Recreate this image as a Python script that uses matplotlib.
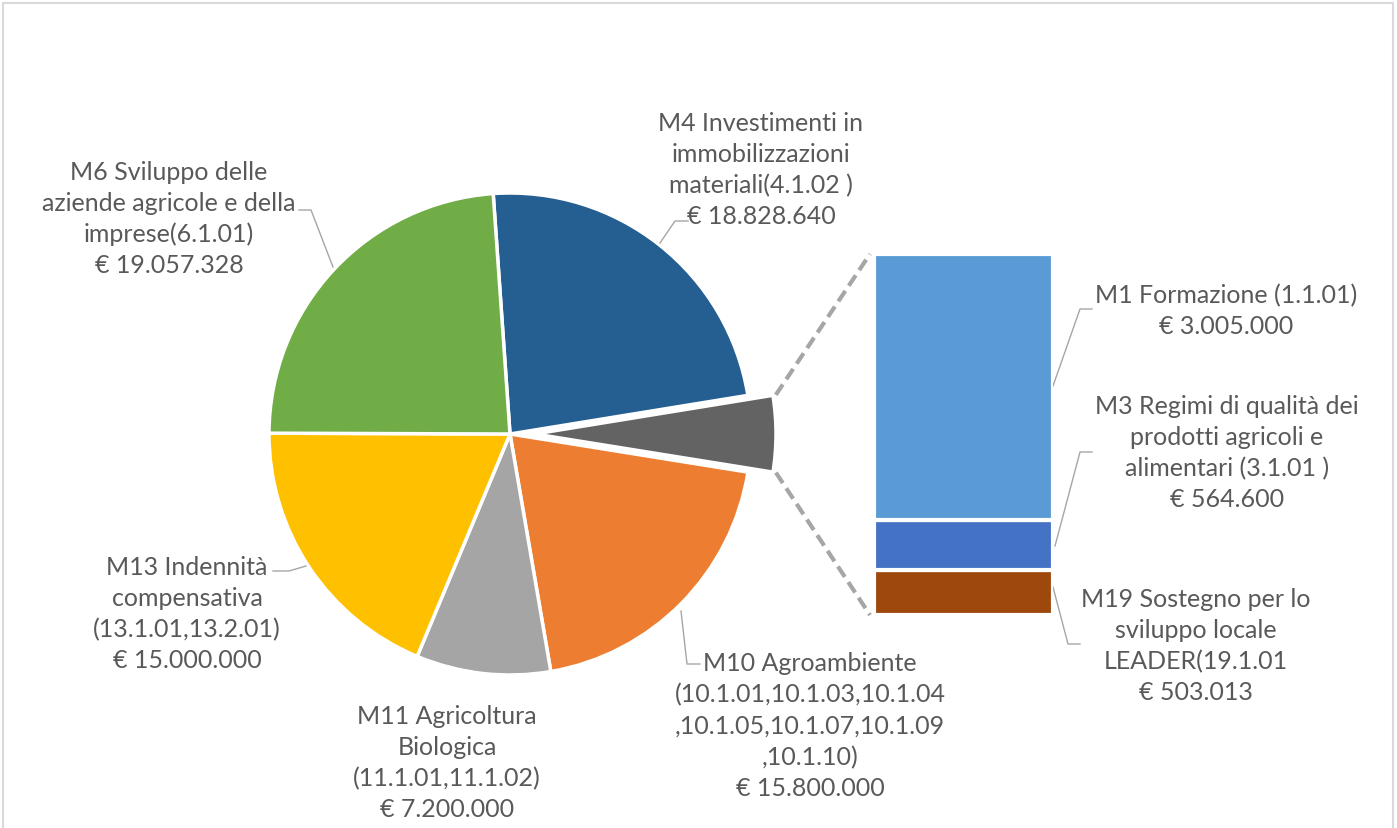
import math
import matplotlib
matplotlib.use("Agg")
import matplotlib.pyplot as plt

# pie data (the grey slice is the sum of the three small measures shown in the bar)
pie_labels = ["M4", "Altre", "M10", "M11", "M13", "M6"]
pie_values = [18828640, None, 15800000, 7200000, 15000000, 19057328]
pie_colors = ["#255E91", "#636363", "#ED7D31", "#A5A5A5", "#FFC000", "#70AD47"]

# bar data (bottom -> top)
bar_labels = ["M19", "M3", "M1"]
bar_values = [503013, 564600, 3005000]
bar_colors = ["#9E480E", "#4472C4", "#5B9BD5"]

pie_values[1] = sum(bar_values)

W, H = 1397, 829
TXT = "#595959"
plt.rcParams["font.family"] = ["Lato", "DejaVu Sans"]

fig = plt.figure(figsize=(W / 100, H / 100), dpi=100)
ax = fig.add_axes([0, 0, 1, 1])


def Y(y):
    return H - y


cx, cy, r = 510, Y(435), 241
wedges, _ = ax.pie(pie_values, colors=pie_colors, startangle=94, counterclock=False,
                   center=(cx, cy), radius=r,
                   wedgeprops=dict(edgecolor="white", linewidth=2.5))

# pull the "other" slice out
g = wedges[1]
mid = math.radians((g.theta1 + g.theta2) / 2)
off = 25
g.set_center((cx + off * math.cos(mid), cy + off * math.sin(mid)))

ax.set_xlim(0, W)
ax.set_ylim(0, H)
ax.set_aspect("auto")
ax.axis("off")

# bar of pie
bax = fig.add_axes([874 / W, (H - 616) / H, (1053 - 874) / W, (616 - 255) / H])
bottom = 0
for v, c in zip(bar_values, bar_colors):
    bax.bar(0, v, bottom=bottom, width=1, color=c, edgecolor="white", linewidth=3)
    bottom += v
bax.set_xlim(-0.5, 0.5)
bax.set_ylim(0, bottom)
bax.axis("off")

# dashed connectors from slice corners to bar corners
pos = bax.get_position()
gx, gy = g.center
t_top, t_bot = max(g.theta1, g.theta2), min(g.theta1, g.theta2)
for th, by in [(t_top, pos.y1 * H), (t_bot, pos.y0 * H)]:
    t = math.radians(th)
    px, py = gx + (r + 3) * math.cos(t), gy + (r + 3) * math.sin(t)
    ax.plot([px, pos.x0 * W - 4], [py, by], color="#A6A6A6", lw=3,
            linestyle=(0, (3, 1.5)), solid_capstyle="butt")

# labels
labels = [
    ("M4 Investimenti in\nimmobilizzazioni\nmateriali(4.1.02 )\n€ 18.828.640", 761, 170),
    ("M6 Sviluppo delle\naziende agricole e della\nimprese(6.1.01)\n€ 19.057.328", 169, 219),
    ("M13 Indennità\ncompensativa\n(13.1.01,13.2.01)\n€ 15.000.000", 187, 614),
    ("M11 Agricoltura\nBiologica\n(11.1.01,11.1.02)\n€ 7.200.000", 447, 763),
    ("M10 Agroambiente\n(10.1.01,10.1.03,10.1.04\n,10.1.05,10.1.07,10.1.09\n,10.1.10)\n€ 15.800.000", 810, 726),
    ("M1 Formazione (1.1.01)\n€ 3.005.000", 1226, 311),
    ("M3 Regimi di qualità dei\nprodotti agricoli e\nalimentari (3.1.01 )\n€ 564.600", 1227, 453),
    ("M19 Sostegno per lo\nsviluppo locale\nLEADER(19.1.01\n€ 503.013", 1196, 646),
]
for txt, x, y in labels:
    ax.text(x, Y(y), txt, ha="center", va="center", fontsize=18, color=TXT,
            linespacing=1.42)

# leader lines
leaders = [
    [(688, 222), (675, 222), (660, 244)],
    [(299, 211), (311, 211), (333, 268)],
    [(273, 572), (289, 572), (306, 567)],
    [(700, 665), (687, 665), (681, 612)],
    [(1092, 310), (1080, 310), (1053, 387)],
    [(1092, 453), (1080, 453), (1055, 547)],
    [(1053, 588), (1068, 645), (1080, 645)],
]
for pts in leaders:
    ax.plot([p[0] for p in pts], [Y(p[1]) for p in pts], color="#A6A6A6", lw=1)

# chart border
ax.plot([3, 3, 1393, 1393], [0, Y(4), Y(4), 0], color="#D9D9D9", lw=1.5)

fig.savefig("out.png", dpi=100, facecolor="white")
